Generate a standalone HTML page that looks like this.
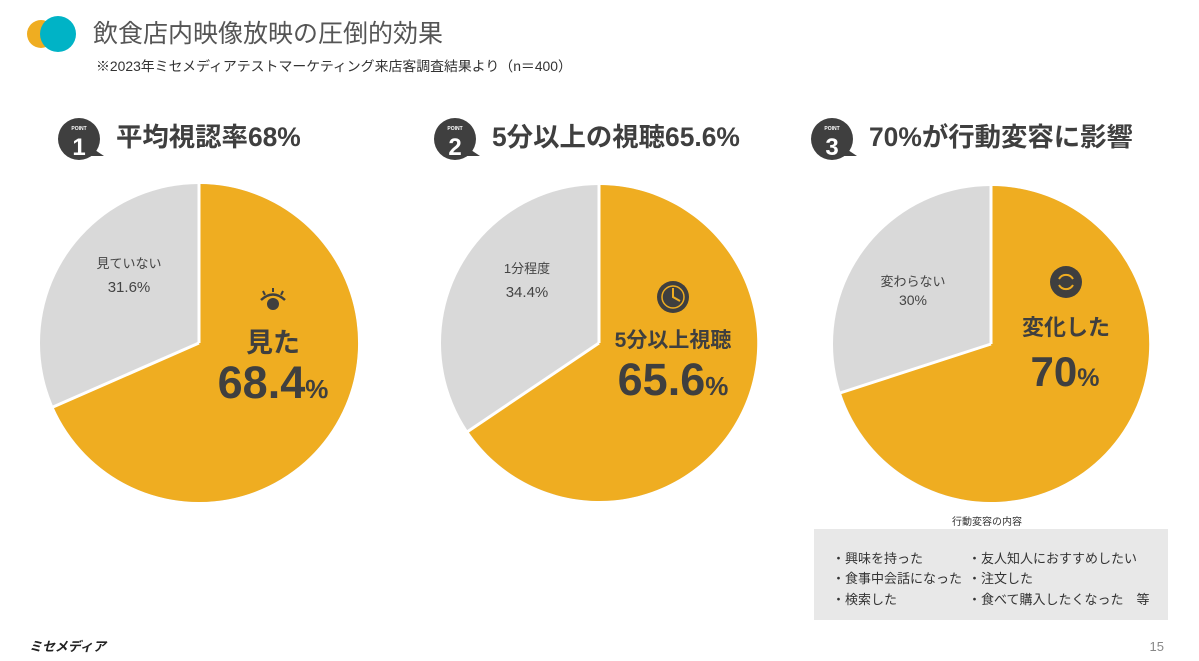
<!DOCTYPE html>
<html><head><meta charset="utf-8"><style>
body{margin:0;background:#fff;}
svg text{font-family:"Liberation Sans","Noto Sans CJK JP",sans-serif;}
</style></head><body>
<svg width="1199" height="656" viewBox="0 0 1199 656" xmlns="http://www.w3.org/2000/svg">
<rect width="1199" height="656" fill="#fff"/>
<circle cx="41" cy="34" r="14" fill="#efad21"/>
<circle cx="58" cy="34" r="18" fill="#00b3c6"/>
<text x="93" y="42" font-size="25" fill="#555">飲食店内映像放映の圧倒的効果</text>
<text x="96" y="71" font-size="13.9" fill="#333">※2023年ミセメディアテストマーケティング来店客調査結果より（n＝400）</text>

<g fill="#3f3f3f">
<circle cx="79" cy="139" r="21"/><path d="M95 150 L104 156 L90 156 Z"/>
<circle cx="455" cy="139" r="21"/><path d="M471 150 L480 156 L466 156 Z"/>
<circle cx="832" cy="139" r="21"/><path d="M848 150 L857 156 L843 156 Z"/>
</g>
<g fill="#fff" font-weight="bold" text-anchor="middle">
<text x="79" y="130" font-size="5">POINT</text><text x="79" y="155" font-size="24">1</text>
<text x="455" y="130" font-size="5">POINT</text><text x="455" y="155" font-size="24">2</text>
<text x="832" y="130" font-size="5">POINT</text><text x="832" y="155" font-size="24">3</text>
</g>
<g fill="#3f3f3f" font-weight="bold" font-size="26.4">
<text x="116" y="146">平均視認率68%</text>
<text x="492" y="146">5分以上の視聴65.6%</text>
<text x="869" y="146">70%が行動変容に影響</text>
</g>

<circle cx="199" cy="343" r="159" fill="#d9d9d9"/>
<path d="M199 343 L199 184 A159 159 0 1 1 53.5 407 Z" fill="#efad21"/>
<g stroke="#fff" stroke-width="3"><line x1="199" y1="343" x2="199" y2="183"/><line x1="199" y1="343" x2="53" y2="407"/></g>

<circle cx="599" cy="343" r="158" fill="#d9d9d9"/>
<path d="M599 343 L599 185 A158 158 0 1 1 468 431 Z" fill="#efad21"/>
<g stroke="#fff" stroke-width="3"><line x1="599" y1="343" x2="599" y2="184"/><line x1="599" y1="343" x2="467" y2="432"/></g>

<circle cx="991" cy="344" r="158" fill="#d9d9d9"/>
<path d="M991 344 L991 186 A158 158 0 1 1 841 393 Z" fill="#efad21"/>
<g stroke="#fff" stroke-width="3"><line x1="991" y1="344" x2="991" y2="185"/><line x1="991" y1="344" x2="840" y2="393"/></g>

<g fill="#444" font-size="13" text-anchor="middle">
<text x="129" y="268">見ていない</text><text x="129" y="292" font-size="15">31.6%</text>
<text x="527" y="273">1分程度</text><text x="527" y="297" font-size="15">34.4%</text>
<text x="913" y="286">変わらない</text><text x="913" y="305" font-size="14">30%</text>
</g>

<g fill="#3f3f3f" stroke="#3f3f3f">
<circle cx="273" cy="304" r="6" stroke="none"/>
<path d="M261 300 Q273 289 285 300" fill="none" stroke-width="2.5"/>
<line x1="263" y1="291" x2="265" y2="295" stroke-width="2"/><line x1="273" y1="288" x2="273" y2="292" stroke-width="2"/><line x1="283" y1="291" x2="281" y2="295" stroke-width="2"/>
<circle cx="673" cy="297" r="16" stroke="none"/>
<circle cx="1066" cy="282" r="16" stroke="none"/>
</g>
<g stroke="#efad21" fill="none" stroke-width="2">
<circle cx="673" cy="297" r="11" stroke-width="1.5"/><path d="M673 288 V297 L680 301"/>
<path d="M1059 279 A8 8 0 0 1 1073 279"/><path d="M1073 285 A8 8 0 0 1 1059 285"/>
</g>
<g fill="#3f3f3f" font-weight="bold" text-anchor="middle">
<text x="273" y="352" font-size="27">見た</text>
<text x="273" y="398" font-size="45">68.4<tspan font-size="26">%</tspan></text>
<text x="673" y="347" font-size="21">5分以上視聴</text>
<text x="673" y="395" font-size="45">65.6<tspan font-size="26">%</tspan></text>
<text x="1066" y="335" font-size="22">変化した</text>
<text x="1065" y="386" font-size="42">70<tspan font-size="25">%</tspan></text>
</g>

<text x="987" y="525" font-size="10" fill="#333" text-anchor="middle">行動変容の内容</text>
<rect x="814" y="529" width="354" height="91" fill="#e8e8e8"/>
<g font-size="13" fill="#333">
<text x="832" y="563">・興味を持った</text><text x="968" y="563">・友人知人におすすめしたい</text>
<text x="832" y="583">・食事中会話になった</text><text x="968" y="583">・注文した</text>
<text x="832" y="604">・検索した</text><text x="968" y="604">・食べて購入したくなった　等</text>
</g>
<text x="29" y="651" font-size="13" font-weight="bold" fill="#222" font-style="italic">ミセメディア</text>
<text x="1164" y="651" font-size="13" fill="#888" text-anchor="end">15</text>
</svg>
</body></html>
